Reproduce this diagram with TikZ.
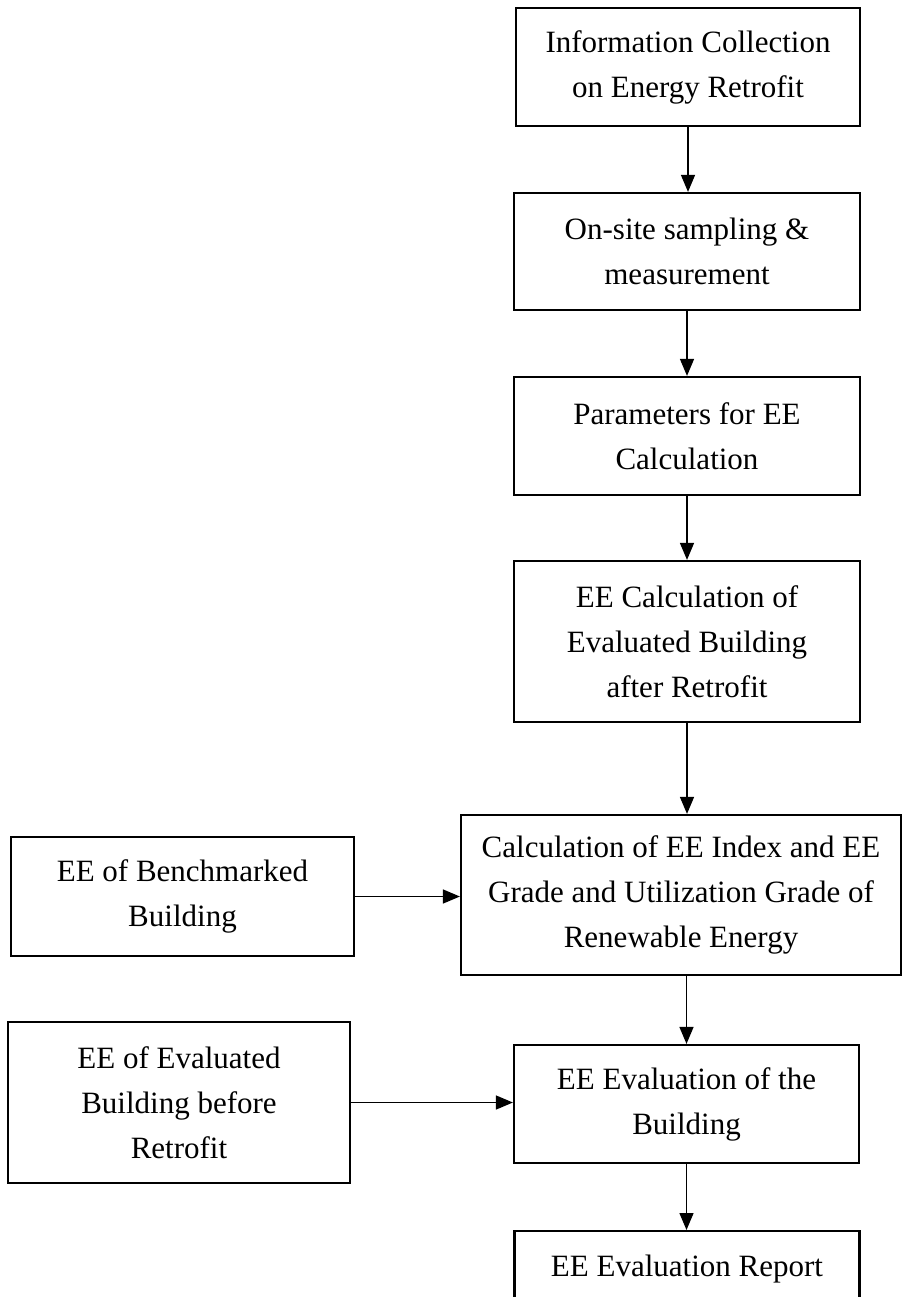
\documentclass[tikz,border=0pt]{standalone}
\usepackage{fontspec}
\setmainfont{Liberation Serif}
\usetikzlibrary{arrows.meta}
\begin{document}
\begin{tikzpicture}[x=1pt,y=-1pt,
  box/.style={draw, line width=2.2pt, rectangle, inner sep=0pt, align=center,
    font=\fontsize{31}{45}\selectfont},
  arr/.style={line width=1.4pt, -{Triangle[length=17pt,width=14pt]}}]
\useasboundingbox (0,0) rectangle (903,1297);
\clip (0,0) rectangle (903,1297);
\fill[white] (0,0) rectangle (903,1297);
\node[box, minimum width=344pt, minimum height=118pt] (b1) at (688,67) {Information Collection\\on Energy Retrofit};
\node[box, minimum width=346pt, minimum height=117pt] (b2) at (687,251.5) {On-site sampling \&\\measurement};
\node[box, minimum width=346pt, minimum height=118pt] (b3) at (687,436) {Parameters for EE\\Calculation};
\node[box, minimum width=346pt, minimum height=161pt] (b4) at (687,641.5) {EE Calculation of\\Evaluated Building\\after Retrofit};
\node[box, minimum width=440pt, minimum height=160pt] (b5) at (681,895) {Calculation of EE Index and EE\\Grade and Utilization Grade of\\Renewable Energy};
\node[box, minimum width=343pt, minimum height=119pt] (b6) at (182.5,896.5) {EE of Benchmarked\\Building};
\node[box, minimum width=342pt, minimum height=161pt] (b7) at (179,1102.5) {EE of Evaluated\\Building before\\Retrofit};
\node[box, minimum width=345pt, minimum height=118pt] (b8) at (686.5,1104) {EE Evaluation of the\\Building};
\node[box, minimum width=345pt, text height=45pt, text depth=55pt, anchor=north] (b9) at (687,1230) {EE Evaluation Report};
\draw[arr] (b1.south) -- (b1.south |- b2.north);
\draw[arr] (b2.south) -- (b2.south |- b3.north);
\draw[arr] (b3.south) -- (b3.south |- b4.north);
\draw[arr] (b4.south) -- (b4.south |- b5.north);
\draw[arr] (b8.north |- b5.south) -- (b8.north);
\draw[arr] (b8.south) -- (b8.south |- b9.north);
\draw[arr] (b6.east) -- (b6.east -| b5.west);
\draw[arr] (b7.east) -- (b7.east -| b8.west);
\end{tikzpicture}
\end{document}
